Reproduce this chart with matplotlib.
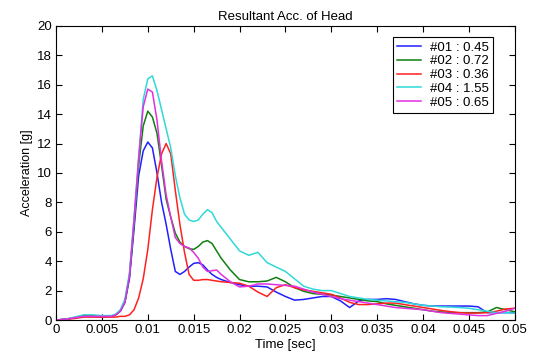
import numpy as np
import matplotlib
matplotlib.use("Agg")
import matplotlib.pyplot as plt
from matplotlib.ticker import FuncFormatter

plt.rcParams['font.family'] = ['Liberation Sans', 'DejaVu Sans']

# time axis [sec]
time = [0, 0.001, 0.002, 0.003, 0.004, 0.005, 0.006, 0.0065, 0.007, 0.0075,
        0.008, 0.0085, 0.009, 0.0095, 0.010, 0.0105, 0.011, 0.0115, 0.012, 0.0125,
        0.013, 0.0135, 0.014, 0.0145, 0.015, 0.0155, 0.016, 0.0165, 0.017, 0.0175,
        0.018, 0.019, 0.020, 0.021, 0.022, 0.023, 0.024, 0.025, 0.026, 0.027,
        0.028, 0.029, 0.030, 0.031, 0.032, 0.033, 0.034, 0.035, 0.036, 0.037,
        0.038, 0.039, 0.040, 0.041, 0.042, 0.043, 0.044, 0.045, 0.046, 0.047,
        0.048, 0.049, 0.050]

acc01 = [0, 0.05, 0.15, 0.25, 0.25, 0.2, 0.25, 0.35, 0.6, 1.2,
         2.8, 6.2, 9.8, 11.5, 12.1, 11.7, 10.0, 8.0, 6.5, 4.8,
         3.3, 3.1, 3.3, 3.6, 3.85, 3.9, 3.75, 3.4, 3.1, 2.9,
         2.75, 2.55, 2.4, 2.3, 2.3, 2.25, 1.9, 1.6, 1.35, 1.4,
         1.5, 1.6, 1.6, 1.3, 0.85, 1.3, 1.4, 1.4, 1.45, 1.4,
         1.25, 1.1, 1.0, 0.95, 0.95, 0.95, 0.95, 0.95, 0.9, 0.5,
         0.5, 0.5, 0.5]
acc02 = [0, 0.05, 0.15, 0.3, 0.3, 0.25, 0.25, 0.35, 0.6, 1.2,
         3.0, 6.5, 10.5, 13.2, 14.2, 13.8, 12.7, 10.5, 8.2, 7.0,
         5.9, 5.3, 5.0, 4.85, 4.8, 5.0, 5.3, 5.4, 5.2, 4.7,
         4.2, 3.4, 2.75, 2.6, 2.6, 2.65, 2.9, 2.6, 2.2, 1.95,
         1.8, 1.75, 1.7, 1.6, 1.5, 1.4, 1.3, 1.25, 1.1, 1.0,
         0.9, 0.8, 0.7, 0.6, 0.55, 0.5, 0.5, 0.5, 0.5, 0.55,
         0.85, 0.7, 0.56]
acc03 = [0, 0.05, 0.1, 0.2, 0.2, 0.2, 0.2, 0.2, 0.25, 0.25,
         0.35, 0.7, 1.5, 2.8, 4.8, 7.5, 9.7, 11.3, 12.0, 11.3,
         8.8, 6.5, 4.6, 3.1, 2.7, 2.7, 2.75, 2.75, 2.7, 2.65,
         2.6, 2.55, 2.5, 2.3, 1.9, 1.6, 2.2, 2.4, 2.2, 2.05,
         1.95, 1.85, 1.75, 1.5, 1.2, 1.05, 1.05, 1.1, 1.15, 1.15,
         1.05, 0.95, 0.85, 0.75, 0.65, 0.57, 0.5, 0.47, 0.47, 0.5,
         0.6, 0.75, 0.8]
acc04 = [0, 0.05, 0.2, 0.35, 0.35, 0.3, 0.3, 0.4, 0.7, 1.4,
         3.2, 7.0, 11.0, 15.0, 16.4, 16.6, 15.6, 14.3, 13.0, 11.7,
         9.8, 8.3, 7.2, 6.8, 6.7, 6.8, 7.2, 7.5, 7.3, 6.7,
         6.3, 5.5, 4.7, 4.4, 4.6, 3.9, 3.6, 3.3, 2.8, 2.3,
         2.1, 2.0, 2.0, 1.8, 1.6, 1.5, 1.4, 1.35, 1.3, 1.25,
         1.2, 1.1, 1.0, 0.95, 0.9, 0.88, 0.85, 0.8, 0.7, 0.6,
         0.5, 0.5, 0.47]
acc05 = [0, 0.05, 0.15, 0.25, 0.25, 0.25, 0.25, 0.35, 0.6, 1.2,
         3.0, 6.8, 11.0, 14.5, 15.7, 15.5, 13.6, 10.8, 8.5, 7.0,
         5.6, 5.2, 5.0, 4.9, 4.6, 4.2, 3.6, 3.3, 3.35, 3.4,
         3.1, 2.6, 2.25, 2.3, 2.45, 2.45, 2.4, 2.35, 2.3, 2.1,
         1.9, 1.75, 1.6, 1.45, 1.35, 1.25, 1.15, 1.05, 0.95, 0.85,
         0.8, 0.75, 0.7, 0.6, 0.5, 0.45, 0.4, 0.35, 0.3, 0.3,
         0.45, 0.6, 0.8]

labels = ['#01 : 0.45', '#02 : 0.72', '#03 : 0.36', '#04 : 1.55', '#05 : 0.65']
colors = ['#2020ff', '#108010', '#ff2020', '#30d8d8', '#e030e0']

fig = plt.figure(figsize=(5.34, 3.54), dpi=100)
ax = fig.add_axes([0.105, 0.096, 0.859, 0.831])

for acc, lab, col in zip([acc01, acc02, acc03, acc04, acc05], labels, colors):
    ax.plot(time, acc, color=col, lw=1.1, label=lab)

ax.set_xlim(0, 0.05)
ax.set_ylim(0, 20)
ax.set_xticks(np.arange(0, 0.0501, 0.005))
ax.set_yticks(np.arange(0, 21, 2))
ax.xaxis.set_major_formatter(FuncFormatter(lambda v, p: '%g' % round(v, 4)))
ax.tick_params(direction='in', top=True, right=True, labelsize=9.5, length=4, width=0.8, pad=3)
for s in ax.spines.values():
    s.set_linewidth(0.8)

ax.set_title('Resultant Acc. of Head', fontsize=9.5, pad=4)
ax.set_xlabel('Time [sec]', fontsize=9.5, labelpad=2)
ax.set_ylabel('Acceleration [g]', fontsize=9, labelpad=3)

leg = ax.legend(loc='upper right', fontsize=9.5, fancybox=False, edgecolor='black',
                framealpha=1, handlelength=1.8, handletextpad=0.7, borderpad=0.3,
                labelspacing=0.12, bbox_to_anchor=(0.967, 0.983))
leg.get_frame().set_linewidth(0.8)

fig.savefig('out.png', dpi=100)
